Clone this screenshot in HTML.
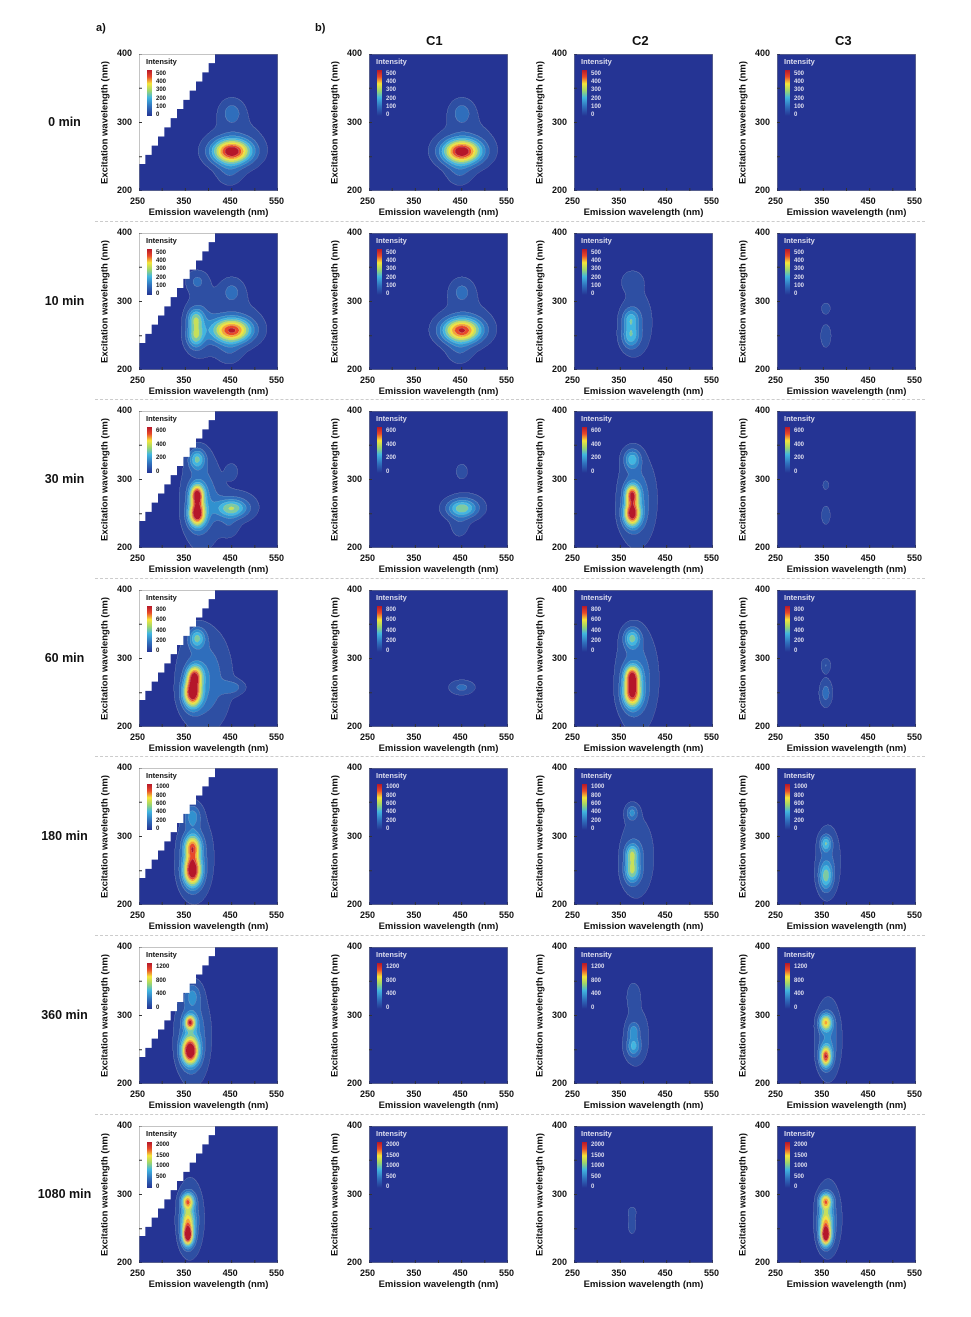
<!DOCTYPE html>
<html><head><meta charset="utf-8">
<style>
body{margin:0;background:#fff;width:971px;height:1317px;position:relative;overflow:hidden;font-family:"Liberation Sans",Arial,sans-serif;}
.t{position:absolute;font-weight:bold;color:#111;white-space:nowrap}
canvas{position:absolute}
.sep{position:absolute;height:0;border-top:1px dashed #ccc}
</style></head><body>
<script>
const root=document.body;
function T(txt,x,y,fs,extra){const d=document.createElement('div');d.className='t';d.textContent=txt;d.style.left=x+'px';d.style.top=y+'px';d.style.fontSize=fs+'px';if(extra)Object.assign(d.style,extra);root.appendChild(d);return d;}
const colX=[139,369,574,777], rowY=[54,233,411,590,768,947,1126], W=139,H=137;
const labels=['0 min','10 min','30 min','60 min','180 min','360 min','1080 min'];
const scales=[[500,400,300,200,100,0],[500,400,300,200,100,0],[600,400,200,0],[800,600,400,200,0],[1000,800,600,400,200,0],[1200,800,400,0],[2000,1500,1000,500,0]];
const smax=[560,560,680,900,1100,1350,2200];
const C1=[[450,258,28,12,1.0],[450,315,17,13,0.18],[445,228,18,13,0.12],[460,270,45,30,0.09]];
function sc(a,k){return a.map(c=>[c[0],c[1],c[2],c[3],c[4]*k]);}
const P=[
 [C1, C1, [], []],
 [[...sc(C1,0.9),[372,250,13,12,.45],[372,275,12,10,.4],[375,330,15,10,.15],[385,270,25,35,.12]], sc(C1,0.9),
  [[372,250,13,12,.35],[372,275,12,10,.3],[375,330,15,10,.12],[385,270,25,35,.12]],
  [[355,250,8,12,.13],[355,290,7,6,.12]]],
 [[[450,258,22,9,0.45],[450,312,9,8,.12],[445,232,14,12,.1],[460,262,35,18,.1],[375,250,12,12,.95],[375,278,10,10,.85],[375,330,12,10,.4],[385,270,27,42,.25]],
  [[450,258,22,9,0.45],[450,312,9,8,.12],[445,232,14,12,.1],[460,262,30,15,.08]],
  [[375,250,12,12,.9],[375,278,10,10,.75],[375,330,12,10,.35],[385,270,25,40,.25]],
  [[355,248,7,10,.12],[355,292,5,5,.11]]],
 [[[450,258,18,7,.18],[365,250,13,14,1],[370,275,11,10,.7],[375,330,12,10,.4],[390,270,35,45,.25]],
  [[450,258,18,7,.18]],
  [[375,250,13,14,.85],[375,275,11,10,.7],[375,330,12,10,.4],[385,270,27,45,.25]],
  [[355,250,9,13,.2],[355,290,7,7,.15]]],
 [[[365,250,13,15,1.0],[365,285,12,12,.7],[370,270,25,40,.2],[365,330,12,12,.25]],
  [],
  [[375,250,11,12,.45],[375,275,10,10,.4],[375,335,9,8,.25],[385,270,25,40,.15]],
  [[355,242,10,14,.4],[355,290,8,8,.35],[360,265,18,35,.15]]],
 [[[360,248,12,13,1],[360,290,8,7,.75],[365,270,22,40,.3],[365,330,12,12,.2]],
  [],
  [[378,255,10,10,.3],[378,278,8,8,.22],[378,330,9,12,.12],[385,270,22,35,.1]],
  [[355,240,8,10,.8],[355,290,9,8,.6],[360,265,17,35,.25]]],
 [[[355,240,8,10,1],[355,290,9,8,.7],[355,262,10,12,.5],[360,265,18,35,.22]],
  [],
  [[375,255,7,10,.1],[375,275,7,6,.09]],
  [[355,240,8,10,1],[355,290,9,8,.7],[355,262,10,12,.5],[360,265,18,35,.2]]]
];
const cols=[[37,52,148],[46,79,163],[47,110,188],[49,145,207],[65,182,224],[124,203,162],[198,224,90],[245,229,58],[247,164,49],[232,73,42],[181,23,42]];
function lvl(v){if(v<0.05)return 0;return Math.min(10,Math.floor((v-0.05)/0.1)+1);}
function stairs(ctx,s){ctx.fillStyle='#fff';ctx.beginPath();ctx.moveTo(0,0);ctx.lineTo(0,110*s);
 const n=12;for(let i=0;i<n;i++){const x0=i*76/n,y0=110-i*110/n;ctx.lineTo((x0+76/n)*s,y0*s);ctx.lineTo((x0+76/n)*s,(y0-110/n)*s);}
 ctx.lineTo(0,0);ctx.fill();}
for(let r=0;r<7;r++){
 const y=rowY[r];
 T(labels[r],0,y+61,12.5,{width:129+'px',textAlign:'center',left:'0px'});
 if(r>0){const s=document.createElement('div');s.className='sep';s.style.left='95px';s.style.width='830px';s.style.top=(y-12)+'px';root.appendChild(s);}
 for(let c=0;c<4;c++){
  const x=colX[c];const s=2;
  const cv=document.createElement('canvas');cv.width=W*s;cv.height=H*s;cv.style.left=x+'px';cv.style.top=y+'px';cv.style.width=W+'px';cv.style.height=H+'px';root.appendChild(cv);
  const ctx=cv.getContext('2d');const img=ctx.createImageData(W*s,H*s);const comps=P[r][c];
  const L=new Uint8Array(W*s*H*s);
  for(let j=0;j<H*s;j++){const ex=400-200*(j+.5)/(H*s);for(let i=0;i<W*s;i++){const em=250+300*(i+.5)/(W*s);let v=0;
   for(const k of comps){const dx=(em-k[0])/k[2],dy=(ex-k[1])/k[3];v+=k[4]*Math.exp(-0.5*(dx*dx+dy*dy));}
   L[j*W*s+i]=lvl(v);}}
  for(let j=0;j<H*s;j++)for(let i=0;i<W*s;i++){const idx=j*W*s+i;const l=L[idx];let col=cols[l];
   let edge=(i>0&&L[idx-1]!=l)||(j>0&&L[idx-W*s]!=l);
   const p=idx*4;const f=edge?0.35:0;img.data[p]=col[0]+(190-col[0])*f;img.data[p+1]=col[1]+(190-col[1])*f;img.data[p+2]=col[2]+(200-col[2])*f;img.data[p+3]=255;}
  ctx.putImageData(img,0,0);
  if(c==0)stairs(ctx,s);
  ctx.strokeStyle='#888';ctx.lineWidth=1;ctx.strokeRect(0.5,0.5,W*s-1,H*s-1);
  ctx.strokeStyle='#333';ctx.lineWidth=2;
  for(let k=0;k<=6;k++){const px=k*W*s/6;ctx.beginPath();ctx.moveTo(px,H*s);ctx.lineTo(px,H*s-6);ctx.stroke();}
  for(let k=0;k<=4;k++){const py=k*H*s/4;ctx.beginPath();ctx.moveTo(0,py);ctx.lineTo(6,py);ctx.stroke();}
  const g=ctx.createLinearGradient(0,16*s,0,62*s);
  [[0,'#b5172a'],[.15,'#e8492a'],[.3,'#f5e53a'],[.45,'#9fd66a'],[.6,'#41b6e0'],[.8,'#2f6ebc'],[1,'#253494']].forEach(a=>g.addColorStop(a[0],a[1]));
  ctx.fillStyle=g;ctx.fillRect(8*s,16*s,5*s,46*s);
  const tc=c==0?'#111':'#dde';
  T('Intensity',x+7,y+3,7.5,{color:tc});
  const sl=scales[r],mx=smax[r];
  sl.forEach(v=>{const py=y+62-46*v/mx;T(String(v),x+17,py-4,6,{color:tc});});
  ['400','300','200'].forEach((t,k)=>T(t,x-22,y+k*H/2-6,9));
  ['250','350','450','550'].forEach((t,k)=>T(t,x+k*W/3-9,y+H+5,9));
  T('Emission wavelength (nm)',x-10,y+H+16,9.5,{width:(W+20)+'px',textAlign:'center'});
  T('Excitation wavelength (nm)',x-34-65,y+H/2-6,9.5,{width:'130px',textAlign:'center',transform:'rotate(-90deg)'});
 }
}
T('a)',96,22,11);T('b)',315,22,11);
T('C1',426,33,13);T('C2',632,33,13);T('C3',835,33,13);
</script>
</body></html>
